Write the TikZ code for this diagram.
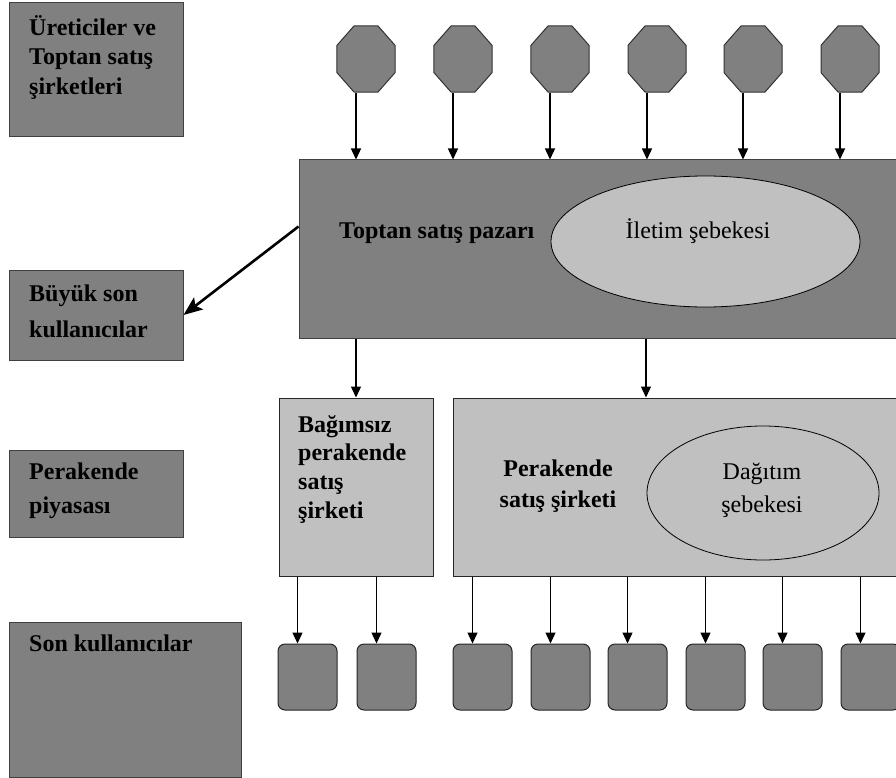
\documentclass[tikz,border=0pt]{standalone}
\usepackage{fontspec}
\setmainfont{Liberation Serif}
\usetikzlibrary{arrows.meta,shapes.geometric,calc}
\definecolor{dgray}{HTML}{808080}
\definecolor{lgray}{HTML}{C0C0C0}
\begin{document}
\begin{tikzpicture}[x=1pt,y=-1pt,
  dbox/.style={draw=black!75, fill=dgray, line width=1pt, inner sep=0pt, rectangle},
  lbox/.style={draw=black!85, fill=lgray, line width=1pt, inner sep=0pt, rectangle},
  octo/.style={draw=black!80, fill=dgray, line width=1pt, inner sep=0pt, regular polygon, regular polygon sides=8, minimum size=62.8, yscale=1.138, transform shape},
  ubox/.style={draw=black!85, fill=dgray, line width=1pt, inner sep=0pt, rectangle, rounded corners=7pt, minimum width=59, minimum height=66},
  ell/.style={draw=black, fill=lgray, line width=0.8pt, ellipse, inner sep=0pt},
  tb/.style={font=\fontsize{24}{28}\selectfont\bfseries, inner sep=0pt, anchor=base west},
  tbc/.style={font=\fontsize{24}{28}\selectfont\bfseries, inner sep=0pt, anchor=base},
  tr/.style={font=\fontsize{24}{28}\selectfont, inner sep=0pt, anchor=base},
  arr/.style={line width=1.3pt, -{Triangle[length=11pt,width=10pt]}},
  bigarr/.style={line width=2.6pt, -{Stealth[length=19pt,width=15pt,inset=4pt]}}
]
\useasboundingbox (0,0) rectangle (896,778);
\clip (0,0) rectangle (896,778);

% left column boxes
\node[dbox, minimum width=174, minimum height=134] (L1) at (96,70) {};
\node[dbox, minimum width=174, minimum height=90] (L2) at (96,315) {};
\node[dbox, minimum width=174, minimum height=87] (L3) at (96,493.5) {};
\node[dbox, minimum width=232, minimum height=155] (L4) at (125,699.5) {};
\node[tb] (t1a) at (29,36) {Üreticiler ve};
\node[tb] (t1b) at (29,65) {Toptan satış};
\node[tb] (t1c) at (29,95) {şirketleri};
\node[tb] (t2a) at (29,301) {Büyük son};
\node[tb] (t2b) at (29,337) {kullanıcılar};
\node[tb] (t3a) at (29,479) {Perakende};
\node[tb] (t3b) at (29,513) {piyasası};
\node[tb] (t4a) at (29,651) {Son kullanıcılar};

% producers
\node[octo] (o1) at (366,59) {};
\node[octo] (o2) at (463,59) {};
\node[octo] (o3) at (560,59) {};
\node[octo] (o4) at (657,59) {};
\node[octo] (o5) at (753,59) {};
\node[octo] (o6) at (850,59) {};

% wholesale market
\node[dbox, minimum width=601, minimum height=178] (main) at (599.5,249) {};
\node[ell, minimum width=309, minimum height=131] (ilet) at (705.5,241.5) {};
\node[tb] (tmain) at (339,238) {Toptan satış pazarı};
\node[tr] (tilet) at (698,238) {İletim şebekesi};

% retail
\node[lbox, minimum width=154, minimum height=178] (bag) at (356,487) {};
\node[lbox, minimum width=447, minimum height=178] (per) at (676.5,487) {};
\node[tb] (tb1) at (298,432) {Bağımsız};
\node[tb] (tb2) at (298,460.7) {perakende};
\node[tb] (tb3) at (298,489.4) {satış};
\node[tb] (tb4) at (298,518) {şirketi};
\node[tbc] (tp1) at (558,476) {Perakende};
\node[tbc] (tp2) at (558,507) {satış şirketi};
\node[ell, minimum width=232, minimum height=134] (dag) at (763,493) {};
\node[tr] (td1) at (762,479) {Dağıtım};
\node[tr] (td2) at (762,512) {şebekesi};

% end users
\node[ubox] (u1) at (307.5,677) {};
\node[ubox] (u2) at (386.5,677) {};
\node[ubox] (u3) at (482.5,677) {};
\node[ubox] (u4) at (560.5,677) {};
\node[ubox] (u5) at (637.5,677) {};
\node[ubox] (u6) at (715.5,677) {};
\node[ubox] (u7) at (792.5,677) {};
\node[ubox] (u8) at (870.5,677) {};

% connectors
\foreach \o in {o1,o2,o3,o4,o5,o6}
  \draw[arr] ([xshift=-10]\o.south) -- ([xshift=-10]\o.south |- main.north);
\draw[bigarr] ($(main.north west)+(0,67)$) -- (L2.east);
\draw[arr] (bag.north |- main.south) -- (bag.north);
\draw[arr] ([xshift=-30.5]per.north |- main.south) -- ([xshift=-30.5]per.north);
\foreach \u in {u1,u2}
  \draw[arr] ([xshift=-10]\u.north |- bag.south) -- ([xshift=-10]\u.north);
\foreach \u in {u3,u4,u5,u6,u7,u8}
  \draw[arr] ([xshift=-10]\u.north |- per.south) -- ([xshift=-10]\u.north);
\end{tikzpicture}
\end{document}
